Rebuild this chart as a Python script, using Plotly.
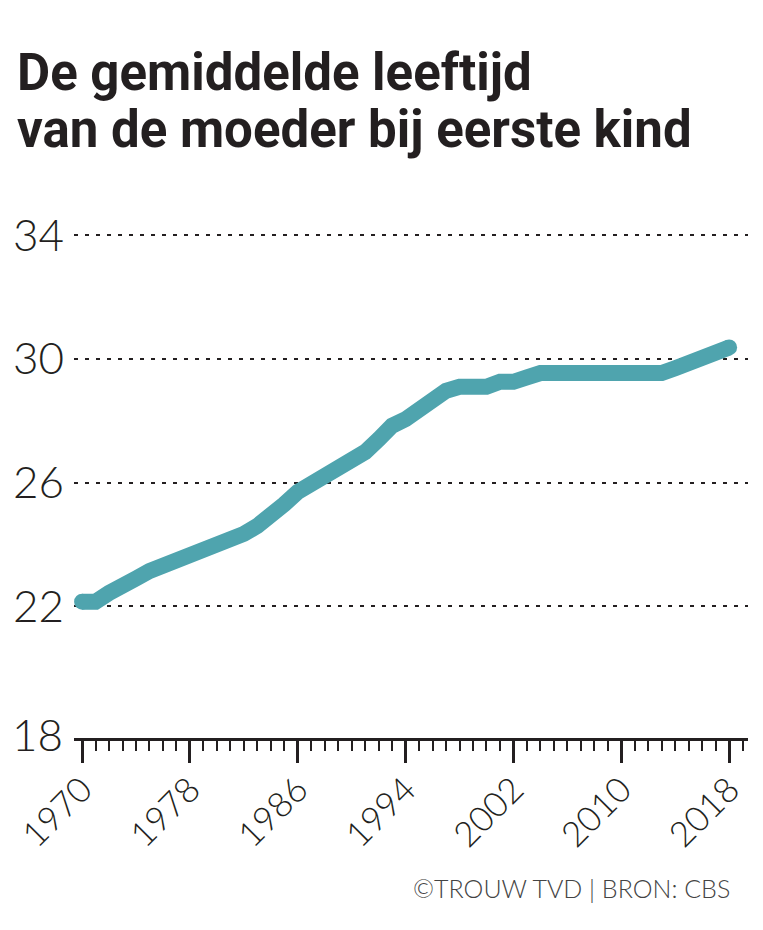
import plotly.graph_objects as go

# ---------------------------------------------------------
# Data: average age of the mother at first child
# ---------------------------------------------------------
years = list(range(1970, 2019))
age = [
    22.15, 22.15, 22.43, 22.74, 22.90, 23.14, 23.30, 23.57, 23.72, 23.88,  # 1970-1979
    24.03, 24.18, 24.34, 24.60, 24.90, 25.30, 25.70, 25.97, 26.25, 26.39,  # 1980-1989
    26.67, 26.99, 27.40, 27.84, 28.05, 28.37, 28.80, 28.97, 29.10, 29.10,  # 1990-1999
    29.10, 29.26, 29.26, 29.40, 29.54, 29.54, 29.54, 29.54, 29.54, 29.54,  # 2000-2009
    29.54, 29.54, 29.54, 29.54, 29.70, 29.90, 30.07, 30.24, 30.37,         # 2010-2018
]

y_grid_ticks = [22, 26, 30, 34]   # dotted lines
y_base = 18                       # bottom value, sits on the x axis line
x_ticks = [1970, 1978, 1986, 1994, 2002, 2010, 2018]

title_lines = ["De gemiddelde leeftijd", "van de moeder bij eerste kind"]
source_text = "©TROUW TVD | BRON: CBS"

line_color = "#4fa4ae"
ink = "#231f20"

# plot area in pixels (used to place the texts)
M_LEFT, M_TOP = 74, 229

fig = go.Figure()

# the line itself
fig.add_trace(go.Scatter(
    x=years, y=age,
    mode="lines",
    line=dict(color=line_color, width=16),
    hoverinfo="skip",
))

# round caps at both ends
fig.add_trace(go.Scatter(
    x=[years[0], years[-1]], y=[age[0], age[-1]],
    mode="markers",
    marker=dict(color=line_color, size=16, line=dict(width=0)),
    hoverinfo="skip",
))

# two title lines as separate annotations so the spacing can be set
annots = []
for i, txt in enumerate(title_lines):
    annots.append(dict(
        text=txt,
        xref="paper", yref="paper",
        x=0, y=1, xanchor="left", yanchor="middle",
        xshift=15 - M_LEFT, yshift=M_TOP - (72 + 57 * i),
        showarrow=False,
        font=dict(family="Roboto", size=51, color=ink, weight="bold"),
    ))

# bottom value label (no dotted line under it, the axis line is there)
annots.append(dict(
    text=str(y_base),
    xref="paper", yref="y",
    x=0, y=y_base, xanchor="right", yanchor="middle",
    xshift=-9, yshift=-4,
    showarrow=False,
    font=dict(family="Lato", size=44, color=ink, weight=300),
))

# source line
annots.append(dict(
    text=source_text,
    xref="x", yref="paper",
    x=2018.2, y=0, yshift=-150,
    xanchor="right", yanchor="middle",
    showarrow=False,
    font=dict(family="Lato", size=25, color="#444444", weight=300),
))

fig.update_layout(
    width=763, height=930,
    margin=dict(l=M_LEFT, r=15, t=M_TOP, b=192),
    paper_bgcolor="white",
    plot_bgcolor="white",
    showlegend=False,
    annotations=annots,
)

fig.update_xaxes(
    range=[1969.4, 2019.4],
    tickvals=x_ticks,
    ticktext=[str(v) for v in x_ticks],
    tickangle=-45,
    ticks="outside", ticklen=22, tickwidth=2.5, tickcolor=ink,
    minor=dict(tick0=1970, dtick=1, ticks="outside", ticklen=10,
               tickwidth=2, tickcolor=ink, showgrid=False),
    showline=True, linecolor=ink, linewidth=3,
    showgrid=False, zeroline=False, automargin=False,
    ticklabeloverflow="allow",
    ticklabelstandoff=-8, ticklabelshift=0,
    tickfont=dict(family="Lato", size=35, color=ink, weight=300),
)

fig.update_yaxes(
    range=[17.74, 34.2],
    tickvals=y_grid_ticks,
    ticks="", ticklabelstandoff=9,
    showline=False, zeroline=False, automargin=False,
    showgrid=True, gridcolor=ink, gridwidth=2, griddash="4px,7px",
    tickfont=dict(family="Lato", size=44, color=ink, weight=300),
)

# page body has a default 8px margin; drop it so the figure fills the window
fig.write_html(
    "out.html",
    config={"displayModeBar": False},
    post_script="document.body.style.margin='0';",
)
